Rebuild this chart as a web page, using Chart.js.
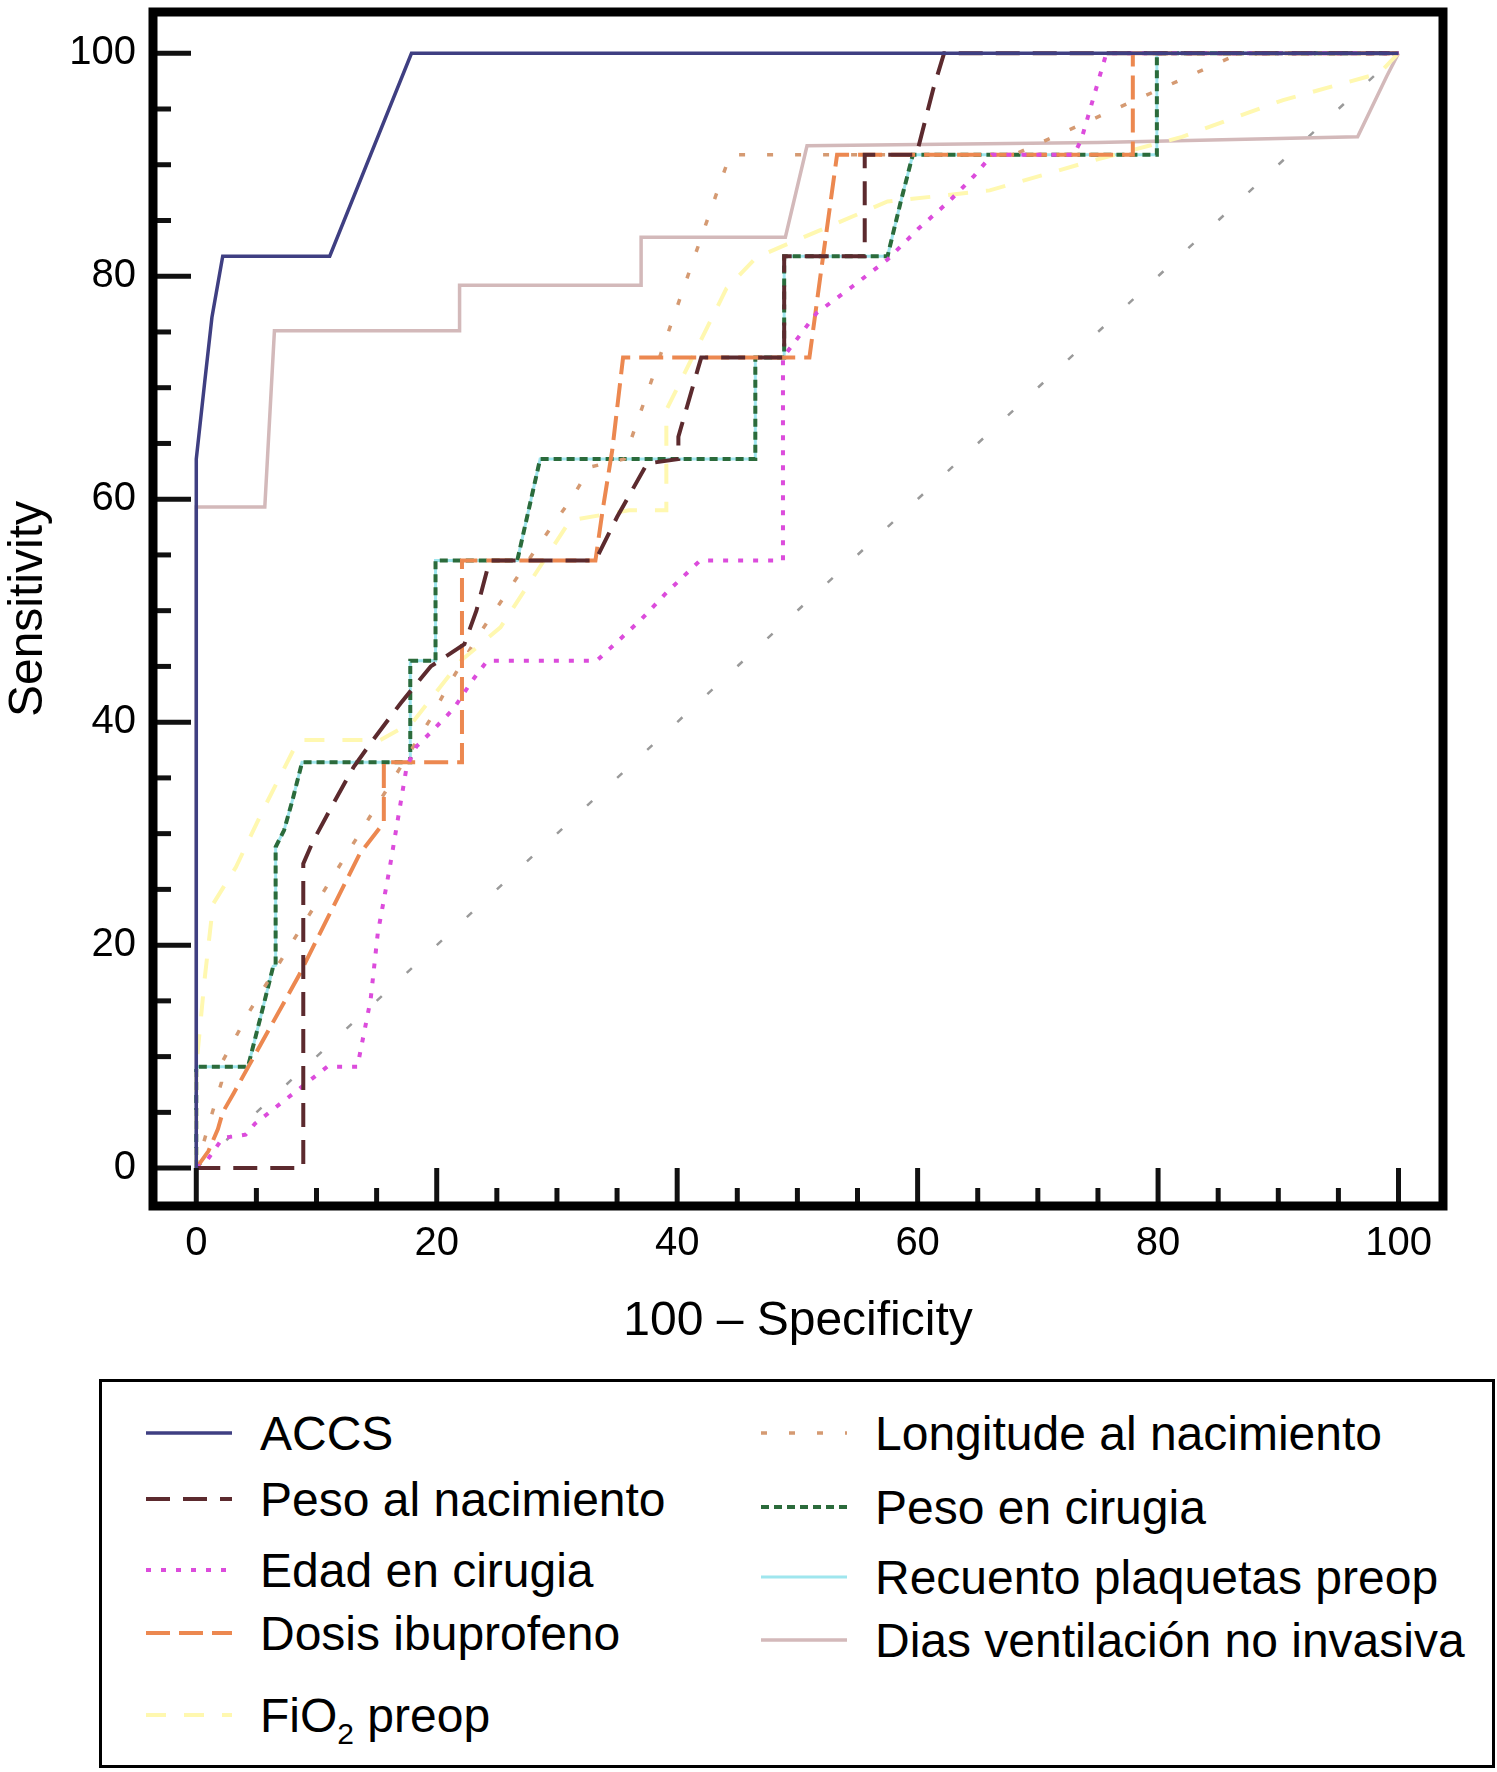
<!DOCTYPE html>
<html lang="es">
<head>
<meta charset="UTF-8">
<title>Curvas ROC</title>
<script src="https://cdn.jsdelivr.net/npm/chart.js"></script>
<style>
  body { margin: 0; background: #fff; font-family: "Liberation Sans", Arial, Helvetica, sans-serif; }
  #wrap { position: relative; width: 1497px; height: 1772px; }
  #plot { position: absolute; left: 0; top: 0; width: 1497px; height: 1370px; }
  #legend {
    position: absolute; left: 99px; top: 1379px; width: 1396px; height: 389px;
    border: 3px solid #000; box-sizing: border-box;
  }
  .item { position: absolute; height: 60px; display: flex; align-items: center; font-size: 48px; color: #000; white-space: nowrap; }
  .item svg { margin-right: 28px; }
  .item sub { font-size: 30px; vertical-align: -12px; line-height: 0; }
</style>
</head>
<body>
<div id="wrap">
  <div id="plot"><canvas id="roc"></canvas></div>
  <div id="legend"></div>
</div>

<script>
// ---- datos (x = 100 - especificidad, y = sensibilidad) ----
const xTicks = [0, 20, 40, 60, 80, 100];
const yTicks = [0, 20, 40, 60, 80, 100];

const accsX = [0, 0, 0.7, 1.3, 2.2, 11.1, 17.9, 100];
const accsY = [0, 63.6, 70.5, 76.3, 81.8, 81.8, 100, 100];

const pesoNacX = [0, 8.9, 8.9, 9.7, 11.4, 13.1, 14.7, 17.0, 19.5, 22.3, 23.3, 24.4, 33.2, 35.0, 37.5, 40.1, 40.1, 41.7, 42.0, 48.9, 48.9, 55.6, 55.6, 59.9, 61.3, 62.2, 100];
const pesoNacY = [0, 0, 27.3, 29.3, 32.7, 36.0, 38.4, 41.7, 45.0, 47.0, 50.0, 54.5, 54.5, 58.4, 63.2, 63.6, 65.6, 71.6, 72.7, 72.7, 81.8, 81.8, 90.9, 90.9, 96.8, 100, 100];

const edadX = [0, 0.9, 2.2, 4.1, 4.9, 10.9, 13.4, 14.5, 15.1, 16.1, 17.5, 18.3, 19.7, 21.4, 23.0, 24.2, 33.3, 36.9, 39.1, 41.9, 48.8, 48.8, 51.6, 54.6, 57.5, 60.1, 62.6, 64.7, 66.2, 73.0, 73.6, 75.7, 100];
const edadY = [0, 0.7, 2.7, 3.0, 4.0, 9.1, 9.1, 15.1, 21.1, 27.0, 36.0, 37.8, 39.3, 41.2, 43.8, 45.5, 45.5, 49.1, 51.6, 54.5, 54.5, 72.7, 76.7, 79.1, 81.5, 84.3, 86.7, 89.0, 90.9, 90.9, 92.2, 100, 100];

const dosisX = [0, 1.0, 1.8, 2.2, 3.1, 8.5, 13.6, 15.6, 15.6, 22.1, 22.1, 33.2, 33.8, 34.6, 35.5, 51.0, 52.0, 53.3, 77.9, 77.9, 100];
const dosisY = [0, 1.5, 3.5, 5.0, 6.7, 17.2, 28.2, 31.0, 36.4, 36.4, 54.5, 54.5, 59.0, 64.4, 72.7, 72.7, 80.7, 90.9, 90.9, 100, 100];

const fio2X = [0, 0, 0.7, 1.4, 3.3, 5.5, 8.5, 15.3, 18.0, 22.0, 25.3, 31.1, 36.0, 39.1, 39.1, 44.1, 46.6, 57.5, 66.0, 74.0, 82.0, 90.4, 98.4, 100];
const fio2Y = [0, 9.1, 17.0, 23.7, 27.0, 32.0, 38.4, 38.4, 40.0, 45.5, 48.5, 58.1, 59.0, 59.0, 68.0, 78.9, 81.7, 86.7, 87.7, 90.2, 92.5, 95.8, 98.2, 100];

const longX = [0, 1.2, 2.1, 2.1, 4.5, 19.6, 20.8, 23.6, 28.3, 31.3, 32.8, 35.6, 41.2, 44.4, 68.0, 86.8, 100];
const longY = [0, 4.5, 7.7, 9.4, 14.2, 40.5, 43.0, 48.0, 55.6, 60.2, 62.9, 63.6, 81.0, 90.9, 90.9, 100, 100];

const pesoCirX = [0, 0, 4.3, 5.5, 6.4, 6.6, 6.6, 7.3, 8.0, 8.8, 17.8, 17.8, 19.9, 19.9, 26.7, 28.6, 46.5, 46.5, 48.9, 48.9, 57.5, 58.6, 59.6, 79.9, 79.9, 100];
const pesoCirY = [0, 9.1, 9.1, 14.2, 18.1, 18.2, 28.8, 30.3, 33.0, 36.4, 36.4, 45.5, 45.5, 54.5, 54.5, 63.6, 63.6, 72.7, 72.7, 81.8, 81.8, 86.7, 90.9, 90.9, 100, 100];

const plaqX = [0, 0, 4.3, 5.5, 6.4, 6.6, 6.6, 7.3, 8.0, 8.8, 17.8, 17.8, 19.9, 19.9, 26.7, 28.6, 46.5, 46.5, 48.9, 48.9, 57.5, 58.6, 59.6, 79.9, 79.9, 100];
const plaqY = [0, 9.1, 9.1, 14.2, 18.1, 18.2, 28.8, 30.3, 33.0, 36.4, 36.4, 45.5, 45.5, 54.5, 54.5, 63.6, 63.6, 72.7, 72.7, 81.8, 81.8, 86.7, 90.9, 90.9, 100, 100];

const diasX = [0, 0, 5.7, 6.5, 21.9, 21.9, 37.0, 37.0, 49.0, 50.8, 75.0, 96.6, 99.0, 100];
const diasY = [0, 59.3, 59.3, 75.1, 75.1, 79.2, 79.2, 83.5, 83.5, 91.7, 92.0, 92.5, 97.9, 100];

const refX = [0, 100];
const refY = [0, 100];

// ---- series ----
const pts = (xs, ys) => xs.map((v, i) => ({ x: v, y: ys[i] }));

const series = [
  { label: 'ACCS', data: pts(accsX, accsY), borderColor: '#3f3f82', borderWidth: 3.5, borderDash: [] },
  { label: 'Peso al nacimiento', data: pts(pesoNacX, pesoNacY), borderColor: '#5c2a2e', borderWidth: 4, borderDash: [24, 13] },
  { label: 'Edad en cirugia', data: pts(edadX, edadY), borderColor: '#dc4cdc', borderWidth: 4, borderDash: [5, 10] },
  { label: 'Dosis ibuprofeno', data: pts(dosisX, dosisY), borderColor: '#ec8850', borderWidth: 4, borderDash: [24, 9] },
  { label: 'FiO₂ preop', data: pts(fio2X, fio2Y), borderColor: '#fff8b0', borderWidth: 4, borderDash: [20, 18] },
  { label: 'Longitude al nacimiento', data: pts(longX, longY), borderColor: '#d59a72', borderWidth: 3.5, borderDash: [6, 22] },
  { label: 'Peso en cirugia', data: pts(pesoCirX, pesoCirY), borderColor: '#2b6b3b', borderWidth: 4, borderDash: [8, 5] },
  { label: 'Recuento plaquetas preop', data: pts(plaqX, plaqY), borderColor: '#9fe6ee', borderWidth: 3, borderDash: [] },
  { label: 'Dias ventilación no invasiva', data: pts(diasX, diasY), borderColor: '#d3b9ba', borderWidth: 3.5, borderDash: [] },
  { label: 'ref', data: pts(refX, refY), borderColor: '#9a9a9a', borderWidth: 2.5, borderDash: [7, 34], isRef: true }
];

// marco negro y marcas hacia dentro
const frameAndTicks = {
  id: 'frameAndTicks',
  afterDatasetsDraw(chart) {
    const { ctx, chartArea: a, scales: { x, y } } = chart;
    ctx.save();
    ctx.strokeStyle = '#111';
    ctx.lineWidth = 5;
    for (let v = 0; v <= 100; v += 5) {
      const len = v % 20 === 0 ? 38 : 18;
      const px = x.getPixelForValue(v);
      ctx.beginPath(); ctx.moveTo(px, a.bottom); ctx.lineTo(px, a.bottom - len); ctx.stroke();
      const py = y.getPixelForValue(v);
      ctx.beginPath(); ctx.moveTo(a.left, py); ctx.lineTo(a.left + len, py); ctx.stroke();
    }
    ctx.strokeStyle = '#000';
    ctx.lineWidth = 9;
    ctx.strokeRect(a.left, a.top, a.right - a.left, a.bottom - a.top);
    ctx.restore();
  }
};

const font = '"Liberation Sans", Arial, Helvetica, sans-serif';

const chart = new Chart(document.getElementById('roc'), {
  type: 'line',
  data: {
    datasets: series.map(s => ({
      ...s,
      fill: false,
      tension: 0,
      pointRadius: 0,
      pointHoverRadius: 0,
      borderCapStyle: 'butt'
    }))
  },
  options: {
    responsive: true,
    maintainAspectRatio: false,
    animation: false,
    events: [],
    layout: { padding: { top: 12, right: 54, left: 0, bottom: 0 } },
    plugins: { legend: { display: false }, tooltip: { enabled: false } },
    scales: {
      x: {
        type: 'linear', min: -3.6, max: 103.7,
        afterBuildTicks: s => { s.ticks = xTicks.map(v => ({ value: v })); },
        afterFit: s => { s.height = 164; s.paddingLeft = 0; s.paddingRight = 0; },
        grid: { display: false, drawTicks: false },
        border: { display: false },
        ticks: { font: { family: font, size: 40 }, color: '#000', padding: 14, maxRotation: 0 },
        title: { display: true, text: '100 – Specificity', color: '#000', font: { family: font, size: 48 }, padding: { top: 0, bottom: 19 } }
      },
      y: {
        type: 'linear', min: -3.4, max: 103.7,
        afterBuildTicks: s => { s.ticks = yTicks.map(v => ({ value: v })); },
        afterFit: s => { s.width = 153; s.paddingTop = 0; s.paddingBottom = 0; },
        grid: { display: false, drawTicks: false },
        border: { display: false },
        ticks: { font: { family: font, size: 40 }, color: '#000', padding: 17 },
        title: { display: true, text: 'Sensitivity', color: '#000', font: { family: font, size: 48 }, padding: { top: 0, bottom: 0 } }
      }
    }
  },
  plugins: [frameAndTicks]
});

// ---- leyenda en dos columnas ----
const legendSlots = [
  { left: 44, mid: 51 }, { left: 44, mid: 117 }, { left: 44, mid: 188 }, { left: 44, mid: 251 }, { left: 44, mid: 333 },
  { left: 659, mid: 51 }, { left: 659, mid: 125 }, { left: 659, mid: 195 }, { left: 659, mid: 258 }
];

const legendBox = document.getElementById('legend');
chart.data.datasets.filter(d => !d.isRef).forEach((d, i) => {
  const slot = legendSlots[i];
  const item = document.createElement('div');
  item.className = 'item';
  item.style.left = slot.left + 'px';
  item.style.top = (slot.mid - 30) + 'px';
  const dash = d.borderDash.length ? d.borderDash.join(' ') : 'none';
  const text = d.label.replace('₂', '<sub>2</sub>');
  item.innerHTML =
    '<svg width="86" height="12"><line x1="0" y1="6" x2="86" y2="6" stroke="' + d.borderColor +
    '" stroke-width="' + d.borderWidth + '" stroke-dasharray="' + dash + '"/></svg><span>' + text + '</span>';
  legendBox.appendChild(item);
});
</script>
</body>
</html>
